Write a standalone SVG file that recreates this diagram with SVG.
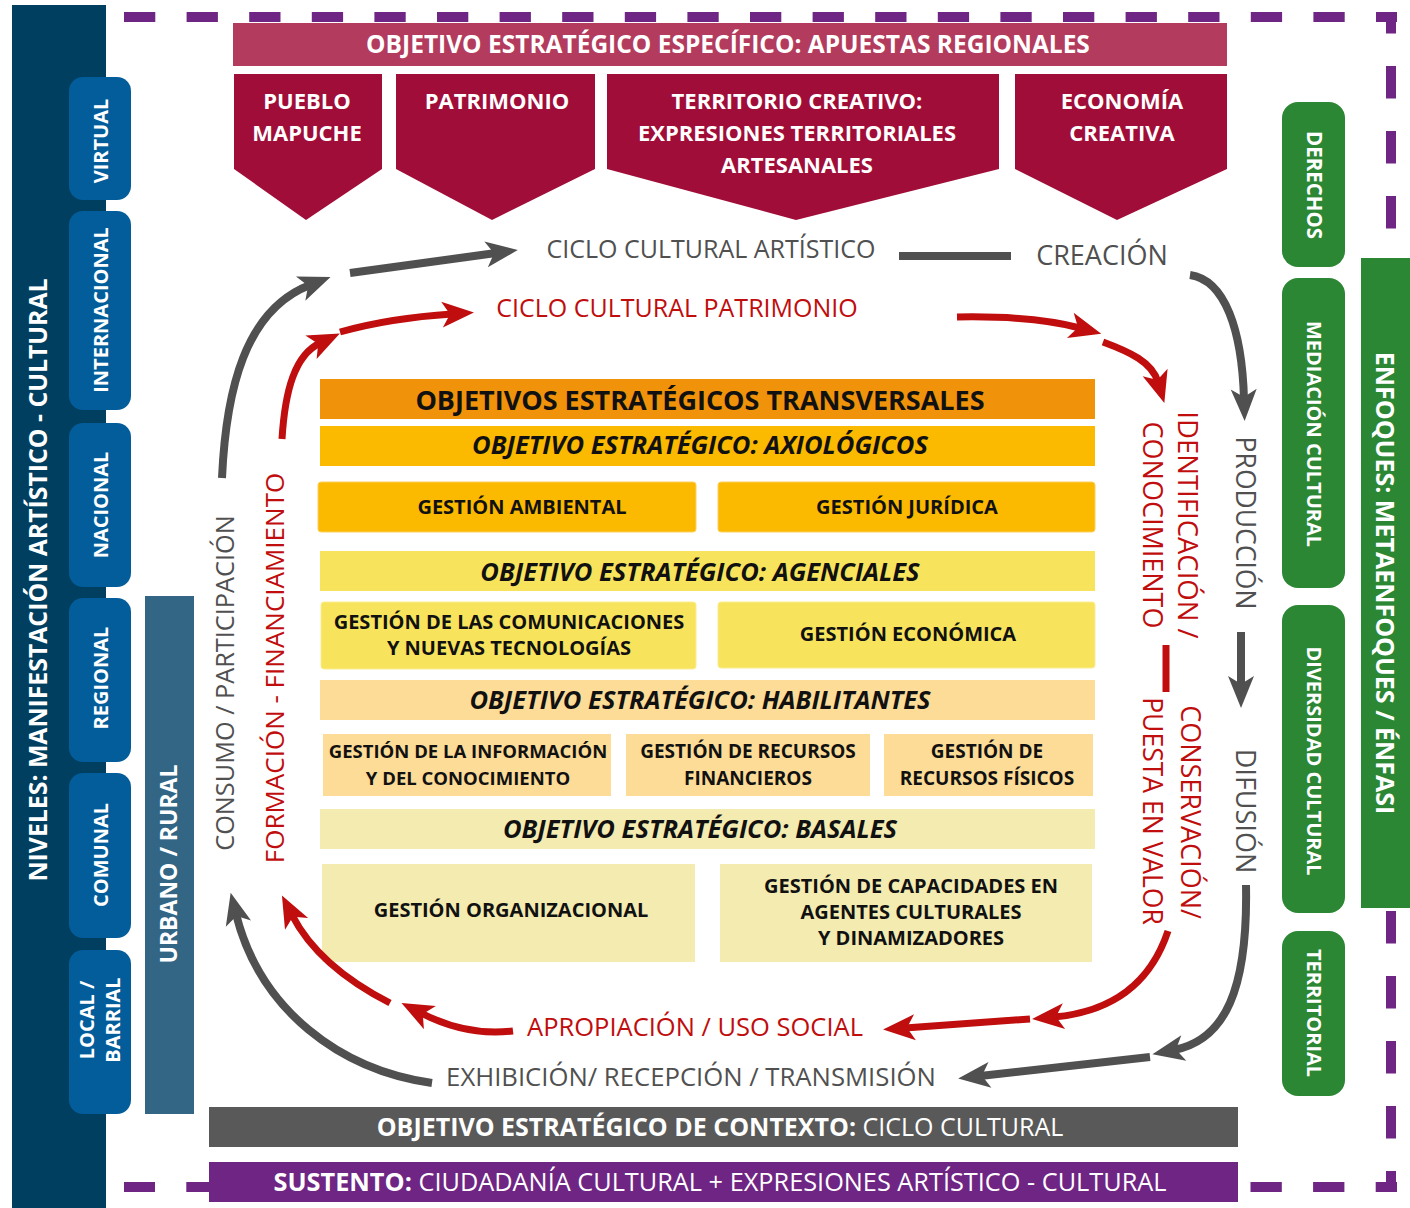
<svg xmlns="http://www.w3.org/2000/svg" width="1410" height="1208" viewBox="0 0 1410 1208">
<defs>
<style>
text{font-family:"Open Sans","Liberation Sans",sans-serif;}
.w{fill:#fff;font-weight:700;}
.b{fill:#111;font-weight:700;}
.bi{fill:#111;font-weight:700;font-style:italic;}
.g{fill:#505050;}
.r{fill:#c00d0d;}
.dash{fill:none;stroke:#6e2583;stroke-width:10;}
.pill{fill:#035d9a;}
.gp{fill:#2b8734;}
.pent{fill:#a00d38;}
.ga{fill:none;stroke:#505050;stroke-width:8;}
.ra{fill:none;stroke:#c00d0d;stroke-width:7;}
</style>
<marker id="mg" markerUnits="userSpaceOnUse" viewBox="-12 -15 36 30" markerWidth="36" markerHeight="30" refX="0" refY="0" orient="auto"><path d="M-10,-13 L22,0 L-10,13 L-2,0 Z" fill="#505050"/></marker>
<marker id="mr" markerUnits="userSpaceOnUse" viewBox="-12 -15 36 30" markerWidth="36" markerHeight="30" refX="0" refY="0" orient="auto"><path d="M-10,-13 L22,0 L-10,13 L-2,0 Z" fill="#c00d0d"/></marker>
</defs>
<rect width="1410" height="1208" fill="#fff"/>
<g id="border">
<path class="dash" d="M124,17 H1397" stroke-dasharray="31.3 31.3"/>
<path class="dash" d="M1391,12 V1192" stroke-dasharray="32.5 32.5" stroke-dashoffset="11"/>
<path class="dash" d="M1397,1187 H124" stroke-dasharray="31.3 31.3" stroke-dashoffset="10"/>
</g>
<g id="niveles">
<rect x="12" y="5" width="94" height="1203" fill="#003f5f"/>
<text class="w" font-size="24.8" transform="translate(38,580) rotate(-90)" text-anchor="middle" dy=".35em">NIVELES: MANIFESTACIÓN ARTÍSTICO - CULTURAL</text>
</g>
<g id="virtual"><rect class="pill" x="69" y="77" width="62" height="123" rx="14"/><text class="w" font-size="20" transform="translate(101,141) rotate(-90)" text-anchor="middle" dy=".35em">VIRTUAL</text></g>
<g id="internacional"><rect class="pill" x="69" y="211" width="62" height="199" rx="14"/><text class="w" font-size="20" transform="translate(101,310) rotate(-90)" text-anchor="middle" dy=".35em">INTERNACIONAL</text></g>
<g id="nacional"><rect class="pill" x="69" y="423" width="62" height="164" rx="14"/><text class="w" font-size="20" transform="translate(101,505) rotate(-90)" text-anchor="middle" dy=".35em">NACIONAL</text></g>
<g id="regional"><rect class="pill" x="69" y="598" width="62" height="164" rx="14"/><text class="w" font-size="20" transform="translate(101,678) rotate(-90)" text-anchor="middle" dy=".35em">REGIONAL</text></g>
<g id="comunal"><rect class="pill" x="69" y="773" width="62" height="165" rx="14"/><text class="w" font-size="20" transform="translate(101,855) rotate(-90)" text-anchor="middle" dy=".35em">COMUNAL</text></g>
<g id="local"><rect class="pill" x="69" y="950" width="62" height="164" rx="14"/><text class="w" font-size="20" transform="translate(100,1020) rotate(-90)" text-anchor="middle"><tspan x="0" y="-6">LOCAL /</tspan><tspan x="0" y="20">BARRIAL</tspan></text></g>
<g id="urbano"><rect x="145" y="596" width="49" height="518" fill="#336685"/><text class="w" font-size="23" transform="translate(169,864) rotate(-90)" text-anchor="middle" dy=".35em">URBANO / RURAL</text></g>

<g id="apuestas">
<rect x="233" y="23" width="994" height="43" fill="#b33b5d"/>
<text class="w" font-size="24.5" x="728" y="44" text-anchor="middle" dy=".35em">OBJETIVO ESTRATÉGICO ESPECÍFICO: APUESTAS REGIONALES</text>
</g>
<g id="pueblo"><polygon class="pent" points="234,74 382,74 382,169 306,220 234,169"/><text class="w" font-size="22" text-anchor="middle"><tspan x="307" y="109">PUEBLO</tspan><tspan x="307" y="141">MAPUCHE</tspan></text></g>
<g id="patrimonio"><polygon class="pent" points="396,74 595,74 595,169 492,220 396,169"/><text class="w" font-size="22" text-anchor="middle"><tspan x="497" y="109">PATRIMONIO</tspan></text></g>
<g id="territorio"><polygon class="pent" points="607,74 999,74 999,169 796,220 607,169"/><text class="w" font-size="22" text-anchor="middle"><tspan x="797" y="109">TERRITORIO CREATIVO:</tspan><tspan x="797" y="141">EXPRESIONES TERRITORIALES</tspan><tspan x="797" y="173">ARTESANALES</tspan></text></g>
<g id="economia"><polygon class="pent" points="1015,74 1227,74 1227,169 1117,220 1015,169"/><text class="w" font-size="22" text-anchor="middle"><tspan x="1122" y="109">ECONOMÍA</tspan><tspan x="1122" y="141">CREATIVA</tspan></text></g>

<g id="derechos"><rect class="gp" x="1282" y="102" width="63" height="165" rx="16"/><text class="w" font-size="20.5" transform="translate(1314,185) rotate(90)" text-anchor="middle" dy=".35em">DERECHOS</text></g>
<g id="mediacion"><rect class="gp" x="1282" y="278" width="63" height="310" rx="16"/><text class="w" font-size="20" transform="translate(1314,434) rotate(90)" text-anchor="middle" dy=".35em">MEDIACIÓN CULTURAL</text></g>
<g id="diversidad"><rect class="gp" x="1282" y="605" width="63" height="308" rx="16"/><text class="w" font-size="20" transform="translate(1314,761) rotate(90)" text-anchor="middle" dy=".35em">DIVERSIDAD CULTURAL</text></g>
<g id="territorial"><rect class="gp" x="1282" y="931" width="63" height="165" rx="16"/><text class="w" font-size="20" transform="translate(1314,1013) rotate(90)" text-anchor="middle" dy=".35em">TERRITORIAL</text></g>
<g id="enfoques"><rect class="gp" x="1361" y="258" width="49" height="650"/><text class="w" font-size="25" transform="translate(1385,583) rotate(90)" text-anchor="middle" dy=".35em">ENFOQUES: METAENFOQUES / ÉNFASI</text></g>

<g id="transversales"><rect x="320" y="379" width="775" height="40" fill="#f0920a"/><text class="b" font-size="27" x="700" y="401" text-anchor="middle" dy=".35em">OBJETIVOS ESTRATÉGICOS TRANSVERSALES</text></g>
<g id="axiologicos"><rect x="320" y="426" width="775" height="40" fill="#fbb900"/><text class="bi" font-size="25.5" x="700" y="445" text-anchor="middle" dy=".35em">OBJETIVO ESTRATÉGICO: AXIOLÓGICOS</text></g>
<g id="ambiental"><rect x="318" y="482" width="378" height="50" rx="3" fill="#fbb900" stroke="#fcd060" stroke-width="1"/><text class="b" font-size="20" x="522" y="507" text-anchor="middle" dy=".35em">GESTIÓN AMBIENTAL</text></g>
<g id="juridica"><rect x="718" y="482" width="377" height="50" rx="3" fill="#fbb900" stroke="#fcd060" stroke-width="1"/><text class="b" font-size="20" x="907" y="507" text-anchor="middle" dy=".35em">GESTIÓN JURÍDICA</text></g>
<g id="agenciales"><rect x="320" y="551" width="775" height="40" fill="#f8e45c"/><text class="bi" font-size="25.5" x="700" y="572" text-anchor="middle" dy=".35em">OBJETIVO ESTRATÉGICO: AGENCIALES</text></g>
<g id="comunicaciones"><rect x="321" y="602" width="375" height="67" rx="3" fill="#f8e45c" stroke="#faec90" stroke-width="1"/><text class="b" font-size="20" text-anchor="middle"><tspan x="509" y="629">GESTIÓN DE LAS COMUNICACIONES</tspan><tspan x="509" y="655">Y NUEVAS TECNOLOGÍAS</tspan></text></g>
<g id="economica"><rect x="718" y="602" width="377" height="66" rx="3" fill="#f8e45c" stroke="#faec90" stroke-width="1"/><text class="b" font-size="20" x="908" y="634" text-anchor="middle" dy=".35em">GESTIÓN ECONÓMICA</text></g>
<g id="habilitantes"><rect x="320" y="680" width="775" height="40" fill="#fddc97"/><text class="bi" font-size="25.5" x="700" y="700" text-anchor="middle" dy=".35em">OBJETIVO ESTRATÉGICO: HABILITANTES</text></g>
<g id="informacion"><rect x="323" y="734" width="288" height="62" fill="#fddc97"/><text class="b" font-size="18.5" text-anchor="middle"><tspan x="468" y="758">GESTIÓN DE LA INFORMACIÓN</tspan><tspan x="468" y="785">Y DEL CONOCIMIENTO</tspan></text></g>
<g id="financieros"><rect x="626" y="734" width="244" height="62" fill="#fddc97"/><text class="b" font-size="19" text-anchor="middle"><tspan x="748" y="758">GESTIÓN DE RECURSOS</tspan><tspan x="748" y="785">FINANCIEROS</tspan></text></g>
<g id="fisicos"><rect x="884" y="734" width="209" height="62" fill="#fddc97"/><text class="b" font-size="19" text-anchor="middle"><tspan x="987" y="758">GESTIÓN DE</tspan><tspan x="987" y="785">RECURSOS FÍSICOS</tspan></text></g>
<g id="basales"><rect x="320" y="809" width="775" height="40" fill="#f3ebb0"/><text class="bi" font-size="25.5" x="700" y="829" text-anchor="middle" dy=".35em">OBJETIVO ESTRATÉGICO: BASALES</text></g>
<g id="organizacional"><rect x="322" y="864" width="373" height="98" fill="#f3ebb0"/><text class="b" font-size="20" x="511" y="910" text-anchor="middle" dy=".35em">GESTIÓN ORGANIZACIONAL</text></g>
<g id="capacidades"><rect x="720" y="864" width="372" height="98" fill="#f3ebb0"/><text class="b" font-size="20" text-anchor="middle"><tspan x="911" y="893">GESTIÓN DE CAPACIDADES EN</tspan><tspan x="911" y="919">AGENTES CULTURALES</tspan><tspan x="911" y="945">Y DINAMIZADORES</tspan></text></g>

<g id="contexto"><rect x="209" y="1107" width="1029" height="40" fill="#595959"/><text class="w" font-size="25" x="720" y="1127" text-anchor="middle" dy=".35em">OBJETIVO ESTRATÉGICO DE CONTEXTO:<tspan font-weight="400"> CICLO CULTURAL</tspan></text></g>
<g id="sustento"><rect x="209" y="1162" width="1029" height="40" fill="#6e2583"/><text class="w" font-size="25.3" x="720" y="1182" text-anchor="middle" dy=".35em">SUSTENTO:<tspan font-weight="400"> CIUDADANÍA CULTURAL + EXPRESIONES ARTÍSTICO - CULTURAL</tspan></text></g>

<g id="labels">
<text class="g" font-size="25" x="711" y="249" text-anchor="middle" dy=".35em">CICLO CULTURAL ARTÍSTICO</text>
<text class="g" font-size="27" x="1102" y="256" text-anchor="middle" dy=".35em">CREACIÓN</text>
<text class="r" font-size="25" x="677" y="308" text-anchor="middle" dy=".35em">CICLO CULTURAL PATRIMONIO</text>
<text class="r" font-size="25.5" x="695" y="1027" text-anchor="middle" dy=".35em">APROPIACIÓN / USO SOCIAL</text>
<text class="g" font-size="25.7" x="691" y="1077" text-anchor="middle" dy=".35em">EXHIBICIÓN/ RECEPCIÓN / TRANSMISIÓN</text>
<text class="g" font-size="26.5" transform="translate(1245,523) rotate(90)" text-anchor="middle" dy=".35em">PRODUCCIÓN</text>
<text class="g" font-size="27" transform="translate(1245,811) rotate(90)" text-anchor="middle" dy=".35em">DIFUSIÓN</text>
<text class="g" font-size="25.3" transform="translate(225,683) rotate(-90)" text-anchor="middle" dy=".35em">CONSUMO / PARTICIPACIÓN</text>
<text class="r" font-size="26" transform="translate(275,668) rotate(-90)" text-anchor="middle" dy=".35em">FORMACIÓN - FINANCIAMIENTO</text>
<text class="r" font-size="27.5" transform="translate(1188,525) rotate(90)" text-anchor="middle" dy=".35em">IDENTIFICACIÓN /</text>
<text class="r" font-size="27" transform="translate(1152,525) rotate(90)" text-anchor="middle" dy=".35em">CONOCIMIENTO</text>
<text class="r" font-size="27" transform="translate(1190,812) rotate(90)" text-anchor="middle" dy=".35em">CONSERVACIÓN/</text>
<text class="r" font-size="26.5" transform="translate(1152,811) rotate(90)" text-anchor="middle" dy=".35em">PUESTA EN VALOR</text>
</g>

<g id="connectors">
<path class="ga" d="M222,478 C226,390 245,310 310,285" marker-end="url(#mg)"/>
<path class="ga" d="M350,273 L496,253" marker-end="url(#mg)"/>
<path class="ga" d="M899,256 L1011,256"/>
<path class="ga" d="M1190,275 C1225,280 1242,330 1244,399" marker-end="url(#mg)"/>
<path class="ga" d="M1241,632 L1241,686" marker-end="url(#mg)"/>
<path class="ga" d="M1246,885 C1248,990 1225,1040 1174,1050" marker-end="url(#mg)"/>
<path class="ga" d="M1150,1057 L980,1076" marker-end="url(#mg)"/>
<path class="ga" d="M432,1083 C340,1070 260,1010 236,914" marker-end="url(#mg)"/>
<path class="ra" d="M282,439 C285,390 295,355 320,343" marker-end="url(#mr)"/>
<path class="ra" d="M340,332 Q390,318 452,314" marker-end="url(#mr)"/>
<path class="ra" d="M957,317 C1010,316 1050,320 1080,328" marker-end="url(#mr)"/>
<path class="ra" d="M1103,342 C1130,352 1152,362 1158,382" marker-end="url(#mr)"/>
<path class="ra" d="M1166,645 L1166,692"/>
<path class="ra" d="M1168,931 C1150,985 1110,1012 1054,1017" marker-end="url(#mr)"/>
<path class="ra" d="M1030,1019 L905,1028" marker-end="url(#mr)"/>
<path class="ra" d="M513,1031 C480,1035 450,1028 421,1013" marker-end="url(#mr)"/>
<path class="ra" d="M390,1003 C345,980 310,950 292,915" marker-end="url(#mr)"/>
</g>
</svg>
